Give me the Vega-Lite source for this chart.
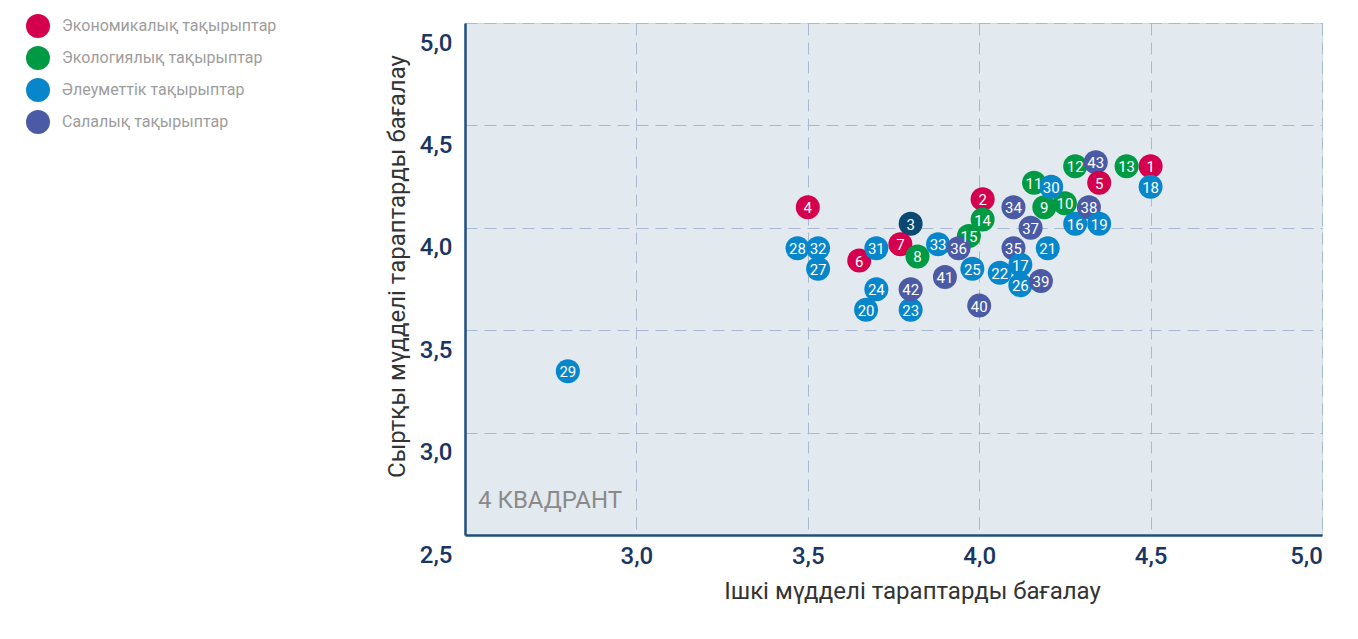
{
  "$schema": "https://vega.github.io/schema/vega-lite/v6.json",
  "width": 857,
  "height": 512,
  "autosize": {"type": "none"},
  "padding": {"left": 465, "top": 23, "right": 36, "bottom": 104},
  "background": "#ffffff",
  "config": {
    "font": "Roboto",
    "view": {"fill": "#e3eaef", "stroke": "#cfd9e1", "strokeWidth": 1}
  },
  "datasets": {
    "points": [
      {"id": "1", "x": 4.50, "y": 4.30, "group": "Экономикалық тақырыптар"},
      {"id": "2", "x": 4.01, "y": 4.14, "group": "Экономикалық тақырыптар"},
      {"id": "3", "x": 3.80, "y": 4.02, "group": "Басқа"},
      {"id": "4", "x": 3.50, "y": 4.10, "group": "Экономикалық тақырыптар"},
      {"id": "6", "x": 3.65, "y": 3.84, "group": "Экономикалық тақырыптар"},
      {"id": "7", "x": 3.77, "y": 3.92, "group": "Экономикалық тақырыптар"},
      {"id": "8", "x": 3.82, "y": 3.86, "group": "Экологиялық тақырыптар"},
      {"id": "9", "x": 4.19, "y": 4.10, "group": "Экологиялық тақырыптар"},
      {"id": "10", "x": 4.25, "y": 4.12, "group": "Экологиялық тақырыптар"},
      {"id": "11", "x": 4.16, "y": 4.22, "group": "Экологиялық тақырыптар"},
      {"id": "12", "x": 4.28, "y": 4.30, "group": "Экологиялық тақырыптар"},
      {"id": "13", "x": 4.43, "y": 4.30, "group": "Экологиялық тақырыптар"},
      {"id": "15", "x": 3.97, "y": 3.96, "group": "Экологиялық тақырыптар"},
      {"id": "14", "x": 4.01, "y": 4.04, "group": "Экологиялық тақырыптар"},
      {"id": "16", "x": 4.28, "y": 4.02, "group": "Әлеуметтік тақырыптар"},
      {"id": "18", "x": 4.50, "y": 4.20, "group": "Әлеуметтік тақырыптар"},
      {"id": "20", "x": 3.67, "y": 3.60, "group": "Әлеуметтік тақырыптар"},
      {"id": "21", "x": 4.20, "y": 3.90, "group": "Әлеуметтік тақырыптар"},
      {"id": "22", "x": 4.06, "y": 3.78, "group": "Әлеуметтік тақырыптар"},
      {"id": "23", "x": 3.80, "y": 3.60, "group": "Әлеуметтік тақырыптар"},
      {"id": "24", "x": 3.70, "y": 3.70, "group": "Әлеуметтік тақырыптар"},
      {"id": "25", "x": 3.98, "y": 3.80, "group": "Әлеуметтік тақырыптар"},
      {"id": "27", "x": 3.53, "y": 3.80, "group": "Әлеуметтік тақырыптар"},
      {"id": "28", "x": 3.47, "y": 3.90, "group": "Әлеуметтік тақырыптар"},
      {"id": "29", "x": 2.80, "y": 3.30, "group": "Әлеуметтік тақырыптар"},
      {"id": "30", "x": 4.21, "y": 4.20, "group": "Әлеуметтік тақырыптар"},
      {"id": "31", "x": 3.70, "y": 3.90, "group": "Әлеуметтік тақырыптар"},
      {"id": "32", "x": 3.53, "y": 3.90, "group": "Әлеуметтік тақырыптар"},
      {"id": "33", "x": 3.88, "y": 3.92, "group": "Әлеуметтік тақырыптар"},
      {"id": "34", "x": 4.10, "y": 4.10, "group": "Салалық тақырыптар"},
      {"id": "35", "x": 4.10, "y": 3.90, "group": "Салалық тақырыптар"},
      {"id": "17", "x": 4.12, "y": 3.82, "group": "Әлеуметтік тақырыптар"},
      {"id": "26", "x": 4.12, "y": 3.72, "group": "Әлеуметтік тақырыптар"},
      {"id": "36", "x": 3.94, "y": 3.90, "group": "Салалық тақырыптар"},
      {"id": "37", "x": 4.15, "y": 4.00, "group": "Салалық тақырыптар"},
      {"id": "38", "x": 4.32, "y": 4.10, "group": "Салалық тақырыптар"},
      {"id": "19", "x": 4.35, "y": 4.02, "group": "Әлеуметтік тақырыптар"},
      {"id": "39", "x": 4.18, "y": 3.74, "group": "Салалық тақырыптар"},
      {"id": "40", "x": 4.00, "y": 3.62, "group": "Салалық тақырыптар"},
      {"id": "41", "x": 3.90, "y": 3.76, "group": "Салалық тақырыптар"},
      {"id": "42", "x": 3.80, "y": 3.70, "group": "Салалық тақырыптар"},
      {"id": "43", "x": 4.34, "y": 4.32, "group": "Салалық тақырыптар"},
      {"id": "5", "x": 4.35, "y": 4.22, "group": "Экономикалық тақырыптар"}
    ]
  },
  "layer": [
    {
      "data": {"name": "points"},
      "mark": {"type": "circle", "size": 576, "opacity": 1},
      "encoding": {
        "x": {
          "field": "x", "type": "quantitative",
          "scale": {"domain": [2.5, 5], "zero": false, "nice": false},
          "axis": {
            "values": [3, 3.5, 4, 4.5, 5],
            "labelExpr": "replace(format(datum.value, '.1f'), '.', ',')",
            "domainColor": "#1f4e79", "domainWidth": 2.5,
            "ticks": false,
            "labelFont": "Roboto", "labelFontSize": 24, "labelFontWeight": 500, "labelColor": "#1b3563",
            "labelPadding": 9, "labelOverlap": false, "labelFlush": false, "labelBound": false,
            "labelOffset": {"condition": {"test": "datum.value == 5", "value": -16}, "value": 0},
            "gridColor": "#a9b9cf", "gridDash": [12, 7], "gridWidth": 1,
            "title": "Ішкі мүдделі тараптарды бағалау",
            "titleFont": "Roboto", "titleFontSize": 24, "titleFontWeight": "normal", "titleColor": "#333333",
            "titlePadding": 11, "titleX": 447
          }
        },
        "y": {
          "field": "y", "type": "quantitative",
          "scale": {"domain": [2.5, 5], "zero": false, "nice": false},
          "axis": {
            "values": [2.5, 3, 3.5, 4, 4.5, 5],
            "labelExpr": "replace(format(datum.value, '.1f'), '.', ',')",
            "domainColor": "#1f4e79", "domainWidth": 2.5,
            "ticks": false,
            "labelFont": "Roboto", "labelFontSize": 24, "labelFontWeight": 500, "labelColor": "#1b3563",
            "labelPadding": 13, "labelOffset": 20, "labelOverlap": false, "labelBound": false, "labelFlush": false,
            "gridColor": "#a9b9cf", "gridDash": [12, 7], "gridWidth": 1,
            "title": "Сыртқы мүдделі тараптарды бағалау",
            "titleFont": "Roboto", "titleFontSize": 24, "titleFontWeight": "normal", "titleColor": "#333333",
            "titlePadding": 10, "titleY": 243
          }
        },
        "color": {
          "field": "group", "type": "nominal",
          "scale": {
            "domain": ["Экономикалық тақырыптар", "Экологиялық тақырыптар", "Әлеуметтік тақырыптар", "Салалық тақырыптар", "Басқа"],
            "range": ["#d4004e", "#009a44", "#0786cb", "#4b5aa5", "#0b4872"]
          },
          "legend": {
            "values": ["Экономикалық тақырыптар", "Экологиялық тақырыптар", "Әлеуметтік тақырыптар", "Салалық тақырыптар"],
            "title": null,
            "orient": "none", "legendX": -439, "legendY": -9,
            "symbolType": "circle", "symbolSize": 576, "symbolStrokeWidth": 0, "symbolOpacity": 1,
            "labelFont": "Roboto", "labelFontSize": 16, "labelColor": "#9d9d9d", "labelOffset": 12, "labelLimit": 400,
            "rowPadding": 8, "padding": 0
          }
        }
      }
    },
    {
      "data": {"name": "points"},
      "mark": {"type": "text", "color": "#ffffff", "fontSize": 15, "font": "Roboto", "baseline": "middle", "align": "center", "dy": 1},
      "encoding": {
        "x": {"field": "x", "type": "quantitative"},
        "y": {"field": "y", "type": "quantitative"},
        "text": {"field": "id"}
      }
    },
    {
      "data": {"values": [{"x": 2.538, "y": 2.664, "label": "4 КВАДРАНТ"}]},
      "mark": {"type": "text", "align": "left", "baseline": "middle", "fontSize": 24, "font": "Roboto", "color": "#8a8a8a"},
      "encoding": {
        "x": {"field": "x", "type": "quantitative"},
        "y": {"field": "y", "type": "quantitative"},
        "text": {"field": "label"}
      }
    }
  ]
}
